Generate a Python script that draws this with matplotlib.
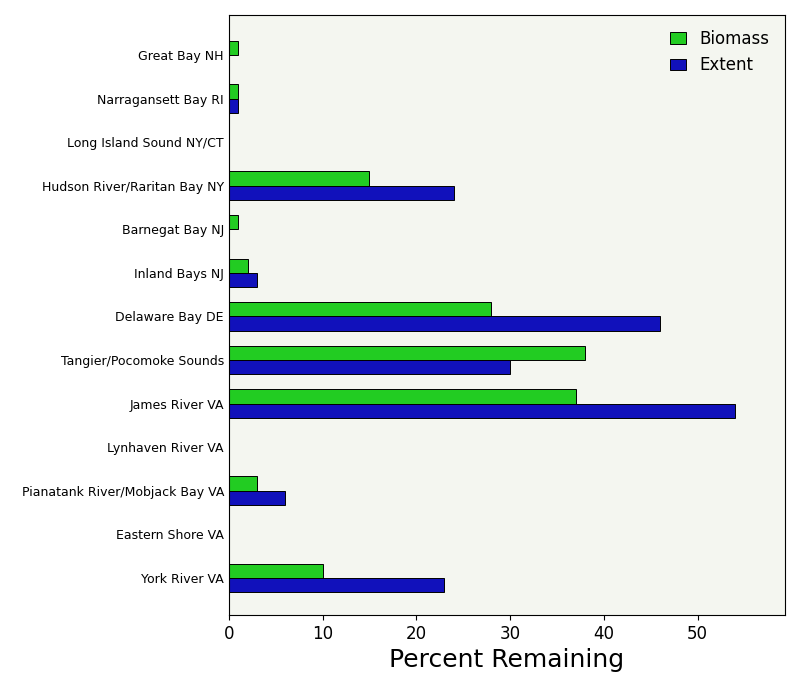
import matplotlib
matplotlib.use('Agg')
import matplotlib.pyplot as plt
import numpy as np

sites = ['Great Bay NH', 'Narragansett Bay RI', 'Long Island Sound NY/CT',
         'Hudson River/Raritan Bay NY', 'Barnegat Bay NJ', 'Inland Bays NJ',
         'Delaware Bay DE', 'Tangier/Pocomoke Sounds', 'James River VA',
         'Lynhaven River VA', 'Pianatank River/Mobjack Bay VA',
         'Eastern Shore VA', 'York River VA']
biomass = [1, 1, 0, 15, 1, 2, 28, 38, 37, 0, 3, 0, 10]
extent = [0, 1, 0, 24, 0, 3, 46, 30, 54, 0, 6, 0, 23]

fig = plt.figure(figsize=(8, 6.81), dpi=100)
ax = fig.add_axes([0.286, 0.097, 0.695, 0.881])
ax.set_facecolor('#f4f6f0')

y = np.arange(len(sites))
h = 0.33
ax.barh(y - h / 2, biomass, h, color='#22cc22', edgecolor='black', linewidth=0.7, label='Biomass')
ax.barh(y + h / 2, extent, h, color='#1111bb', edgecolor='black', linewidth=0.7, label='Extent')

ax.set_yticks(y)
ax.set_yticklabels(sites, fontsize=9)
ax.tick_params(axis='y', length=0)
ax.tick_params(axis='x', labelsize=12, direction='out')
ax.set_ylim(12.85, -0.92)
ax.set_xlim(0, 59.3)
ax.set_xticks([0, 10, 20, 30, 40, 50])
ax.set_xlabel('Percent Remaining', fontsize=18)
ax.legend(loc='upper right', frameon=False, fontsize=12, handlelength=1.0)

plt.savefig('out.png', dpi=100)
